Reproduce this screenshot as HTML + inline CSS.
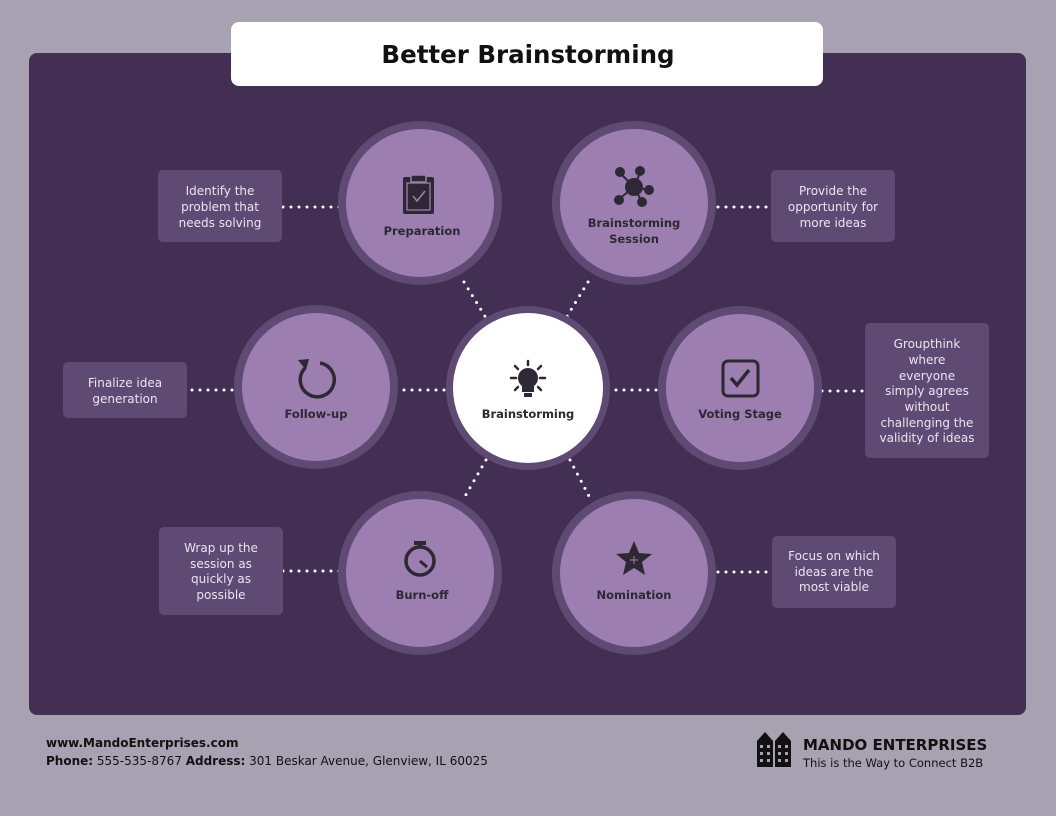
<!DOCTYPE html>
<html><head><meta charset="utf-8"><style>
html,body{margin:0;padding:0;background:#a8a1b1;}
svg{display:block}
text{font-family:"DejaVu Sans","Liberation Sans",sans-serif}
</style></head><body>
<svg width="1056" height="816" viewBox="0 0 1056 816" xmlns="http://www.w3.org/2000/svg">
<rect width="1056" height="816" fill="#a8a1b1"/>
<rect x="29" y="53" width="997" height="662" rx="8" fill="#432f53"/>
<rect x="231" y="22" width="592" height="64" rx="8" fill="#fff"/>
<text x="528" y="63" font-size="24.5" font-weight="bold" text-anchor="middle" fill="#111">Better Brainstorming</text>

<g stroke="#fff" stroke-width="3" stroke-linecap="round" stroke-dasharray="0 8" fill="none">
<line x1="283" y1="207" x2="340" y2="207"/>
<line x1="718" y1="207" x2="770" y2="207"/>
<line x1="192" y1="390" x2="236" y2="390"/>
<line x1="404" y1="390" x2="448" y2="390"/>
<line x1="616" y1="390" x2="660" y2="390"/>
<line x1="822" y1="391" x2="866" y2="391"/>
<line x1="283" y1="571" x2="340" y2="571"/>
<line x1="718" y1="572" x2="772" y2="572"/>
<line x1="464" y1="282" x2="486" y2="318"/>
<line x1="588" y1="282" x2="566" y2="318"/>
<line x1="486" y1="460" x2="464" y2="498"/>
<line x1="570" y1="460" x2="590" y2="498"/>
</g>

<g fill="#5f4a74">
<rect x="158" y="170" width="124" height="72" rx="5"/>
<rect x="771" y="170" width="124" height="72" rx="5"/>
<rect x="63" y="362" width="124" height="56" rx="5"/>
<rect x="865" y="323" width="124" height="135" rx="5"/>
<rect x="159" y="527" width="124" height="88" rx="5"/>
<rect x="772" y="536" width="124" height="72" rx="5"/>
</g>
<g font-size="12" fill="#ece4f2" text-anchor="middle">
<text x="220" y="195">Identify the</text><text x="220" y="211">problem that</text><text x="220" y="227">needs solving</text>
<text x="833" y="195">Provide the</text><text x="833" y="211">opportunity for</text><text x="833" y="227">more ideas</text>
<text x="125" y="387">Finalize idea</text><text x="125" y="403">generation</text>
<text x="927" y="348">Groupthink</text><text x="927" y="364">where</text><text x="927" y="380">everyone</text><text x="927" y="395">simply agrees</text><text x="927" y="411">without</text><text x="927" y="427">challenging the</text><text x="927" y="442">validity of ideas</text>
<text x="221" y="552">Wrap up the</text><text x="221" y="568">session as</text><text x="221" y="583">quickly as</text><text x="221" y="599">possible</text>
<text x="834" y="560">Focus on which</text><text x="834" y="576">ideas are the</text><text x="834" y="591">most viable</text>
</g>

<g>
<circle cx="420" cy="203" r="82" fill="#5f4a74"/><circle cx="420" cy="203" r="74" fill="#9c7fb0"/>
<circle cx="634" cy="203" r="82" fill="#5f4a74"/><circle cx="634" cy="203" r="74" fill="#9c7fb0"/>
<circle cx="316" cy="387" r="82" fill="#5f4a74"/><circle cx="316" cy="387" r="74" fill="#9c7fb0"/>
<circle cx="740" cy="388" r="82" fill="#5f4a74"/><circle cx="740" cy="388" r="74" fill="#9c7fb0"/>
<circle cx="420" cy="573" r="82" fill="#5f4a74"/><circle cx="420" cy="573" r="74" fill="#9c7fb0"/>
<circle cx="634" cy="573" r="82" fill="#5f4a74"/><circle cx="634" cy="573" r="74" fill="#9c7fb0"/>
<circle cx="528" cy="388" r="82" fill="#5f4a74"/><circle cx="528" cy="388" r="75" fill="#fff"/>
</g>

<g font-size="11.5" font-weight="bold" fill="#2e2835" text-anchor="middle">
<text x="422" y="235">Preparation</text>
<text x="634" y="227">Brainstorming</text><text x="634" y="243">Session</text>
<text x="316" y="418">Follow-up</text>
<text x="528" y="418">Brainstorming</text>
<text x="740" y="418">Voting Stage</text>
<text x="422" y="599">Burn-off</text>
<text x="634" y="599">Nomination</text>
</g>

<g fill="#2e2835" stroke="none">
<rect x="403" y="177" width="31" height="37" rx="2"/>
<rect x="411" y="175" width="15" height="7" rx="1" stroke="#9c7fb0" stroke-width="1.5"/>
<rect x="407" y="183" width="23" height="27" fill="none" stroke="#9c7fb0" stroke-width="1.3"/>
<path d="M413 196 l4 5 l8 -10" fill="none" stroke="#9c7fb0" stroke-width="1.5"/>
</g>
<g fill="#2e2835" stroke="#2e2835" stroke-width="2">
<line x1="620" y1="173" x2="634" y2="187"/><line x1="640" y1="173" x2="634" y2="187"/>
<line x1="649" y1="190" x2="634" y2="187"/><line x1="619" y1="199" x2="634" y2="187"/><line x1="642" y1="202" x2="634" y2="187"/>
<circle cx="634" cy="187" r="8"/><circle cx="620" cy="172" r="4"/><circle cx="640" cy="171" r="4"/>
<circle cx="649" cy="190" r="4"/><circle cx="619" cy="200" r="4"/><circle cx="642" cy="202" r="4"/>
</g>
<g fill="none" stroke="#2e2835" stroke-width="3.5">
<path d="M305 368 A17 17 0 1 0 320 363"/>
</g>
<path d="M298 360 l11 -1 l-3 11 z" fill="#2e2835"/>
<rect x="723" y="361" width="35" height="35" rx="5" fill="none" stroke="#2e2835" stroke-width="3"/>
<path d="M731 378 l6 7 l12 -15" fill="none" stroke="#2e2835" stroke-width="3.5"/>
<g stroke="#2e2835" stroke-width="2.5" stroke-linecap="round">
<line x1="528" y1="361" x2="528" y2="365"/><line x1="511" y1="378" x2="516" y2="378"/><line x1="540" y1="378" x2="545" y2="378"/>
<line x1="515" y1="366" x2="518" y2="369"/><line x1="541" y1="366" x2="538" y2="369"/>
<line x1="515" y1="390" x2="518" y2="387"/><line x1="541" y1="390" x2="538" y2="387"/>
</g>
<path d="M528 368 a10 10 0 0 1 6 18 v6 h-12 v-6 a10 10 0 0 1 6 -18z" fill="#2e2835"/>
<rect x="524" y="393" width="8" height="4" fill="#2e2835"/>
<circle cx="420" cy="561" r="14" fill="none" stroke="#2e2835" stroke-width="3.5"/>
<rect x="414" y="541" width="12" height="4" fill="#2e2835"/><rect x="418" y="544" width="4" height="4" fill="#2e2835"/>
<line x1="420" y1="561" x2="427" y2="567" stroke="#2e2835" stroke-width="3"/>
<path d="M634 541 l5 12 l13 1 l-10 8 l3 13 l-11 -7 l-11 7 l3 -13 l-10 -8 l13 -1z" fill="#2e2835"/>
<path d="M634 556 v8 M630 560 h8" stroke="#9c7fb0" stroke-width="1"/>

<text x="46" y="747" font-size="12" font-weight="bold" fill="#111">www.MandoEnterprises.com</text>
<text x="46" y="765" font-size="12" fill="#111"><tspan font-weight="bold">Phone:</tspan> 555-535-8767  <tspan font-weight="bold">Address:</tspan> 301 Beskar Avenue, Glenview, IL 60025</text>
<g fill="#111">
<path d="M757 767 v-26 l8 -9 l8 9 v26z"/><path d="M775 767 v-26 l8 -9 l8 9 v26z"/>
</g>
<g fill="#a8a1b1">
<rect x="760" y="745" width="3" height="3"/><rect x="767" y="745" width="3" height="3"/>
<rect x="760" y="752" width="3" height="3"/><rect x="767" y="752" width="3" height="3"/>
<rect x="760" y="759" width="3" height="3"/><rect x="767" y="759" width="3" height="3"/>
<rect x="778" y="745" width="3" height="3"/><rect x="785" y="745" width="3" height="3"/>
<rect x="778" y="752" width="3" height="3"/><rect x="785" y="752" width="3" height="3"/>
<rect x="778" y="759" width="3" height="3"/><rect x="785" y="759" width="3" height="3"/>
</g>
<text x="803" y="750" font-size="15" font-weight="bold" fill="#111">MANDO ENTERPRISES</text>
<text x="803" y="767" font-size="11.5" fill="#111">This is the Way to Connect B2B</text>
</svg>
</body></html>
